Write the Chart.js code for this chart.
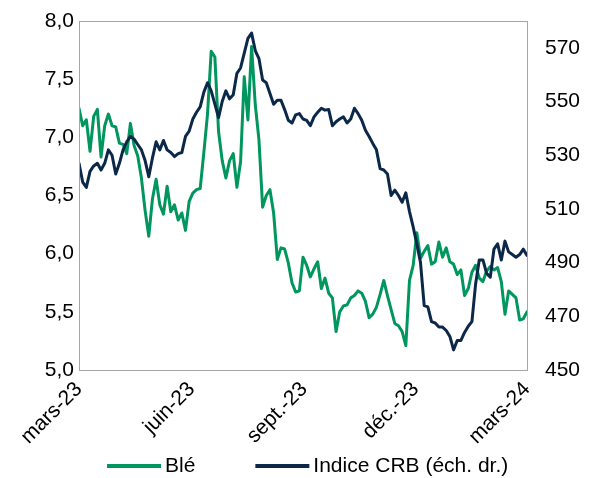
<!DOCTYPE html>
<html lang="fr">
<head>
<meta charset="utf-8">
<title>Blé et indice CRB</title>
<script src="https://cdn.jsdelivr.net/npm/chart.js@4/dist/chart.umd.min.js"></script>
<style>
  html, body { margin: 0; padding: 0; background: #ffffff; }
  #wrap { width: 597px; height: 478px; }
</style>
</head>
<body>
<div id="wrap"><canvas id="chart" width="597" height="478"></canvas></div>
<script>
// Observation dates: one every 3 days from 1 March 2023 to 1 March 2024
const firstDate = '2023-03-01';
const stepDays = 3;
const pointCount = 123;

// Quarterly tick marks on the time axis
const tickDates = ['2023-03-01', '2023-06-01', '2023-09-01', '2023-12-01', '2024-03-01'];
const tickLabels = ['mars-23', 'juin-23', 'sept.-23', 'déc.-23', 'mars-24'];

// Left axis (blé) and right axis (indice CRB) tick values
const bleTicks = [5.0, 5.5, 6.0, 6.5, 7.0, 7.5, 8.0];
const crbTicks = [450, 470, 490, 510, 530, 550, 570];

// Blé, $/boisseau
const ble = [
  7.25, 7.10, 7.15, 6.88, 7.18, 7.24, 6.83, 7.10, 7.20, 7.10,
  7.09, 6.95, 6.94, 6.86, 7.12, 6.93, 6.84, 6.65, 6.37, 6.15,
  6.47, 6.64, 6.42, 6.34, 6.58, 6.36, 6.42, 6.29, 6.35, 6.20,
  6.45, 6.52, 6.55, 6.56, 6.87, 7.20, 7.74, 7.69, 7.05, 6.80,
  6.65, 6.80, 6.86, 6.57, 6.79, 7.52, 7.15, 7.78, 7.28, 6.98,
  6.40, 6.50, 6.55, 6.35, 5.95, 6.05, 6.04, 5.92, 5.75, 5.67,
  5.68, 5.97, 5.90, 5.80, 5.87, 5.93, 5.70, 5.79, 5.66, 5.62,
  5.33, 5.50, 5.55, 5.56, 5.62, 5.64, 5.68, 5.66, 5.59, 5.45,
  5.48, 5.54, 5.65, 5.77, 5.64, 5.52, 5.40, 5.38, 5.33, 5.21,
  5.77, 5.90, 6.18, 5.96, 6.02, 6.07, 5.91, 5.93, 6.10, 5.97,
  6.05, 5.93, 5.91, 5.82, 5.86, 5.64, 5.70, 5.84, 5.90, 5.79,
  5.76, 5.85, 5.89, 5.86, 5.88, 5.76, 5.48, 5.68, 5.65, 5.62,
  5.43, 5.44, 5.50
];

// Indice CRB (échelle de droite)
const crb = [
  527, 520, 518, 524, 526, 527, 524.5, 527, 532, 530,
  523, 527, 532, 535, 537, 536, 534, 532, 528, 522,
  529, 535, 532, 535.5, 532, 531, 529.5, 530.6, 531, 537,
  539, 543.5, 546, 548, 553.5, 557, 554, 549, 544, 550,
  554, 551, 552.5, 560.5, 562.5, 568, 573.5, 575.5, 569, 566,
  558, 557, 553, 549, 550.5, 550.5, 547, 543, 542, 545,
  545.5, 543.5, 543, 541, 544.3, 546, 547.5, 546.8, 547, 541,
  542.5, 543.5, 544.3, 542, 543.5, 547.5, 545.5, 543, 539.3, 537,
  534.4, 532, 525, 524.5, 523, 515, 517, 515, 512.5, 516,
  509, 503.3, 497, 490, 474, 473.5, 468, 467.5, 466, 466,
  464.7, 462.5, 457.5, 461, 461, 464, 466.3, 468, 482, 491,
  491, 486, 484.6, 495, 497, 491, 498, 494, 493, 492,
  493, 495, 492.7
];

const DAY = 86400000;
const t0 = Date.parse(firstDate + 'T00:00:00Z');
const dayOf = s => Math.round((Date.parse(s + 'T00:00:00Z') - t0) / DAY);
const dates = Array.from({ length: pointCount }, (_, i) =>
  new Date(t0 + i * stepDays * DAY).toISOString().slice(0, 10));

const toPoints = values => values.map((v, i) => ({ x: dayOf(dates[i]), y: v }));

const GREEN = '#00965e';
const NAVY = '#0c2849';
const FONT = 'Liberation Sans, Arial, sans-serif';
const FONT_SIZE = 21;

// Fixed axis band sizes so the plotting area sits where it should
const fixWidth = w => s => { s.width = w; s.paddingTop = 0; s.paddingBottom = 0; };

// Thin grey frame around the plotting area
const plotFrame = {
  id: 'plotFrame',
  afterDatasetsDraw(chart) {
    const { ctx, chartArea: a } = chart;
    ctx.save();
    ctx.strokeStyle = '#a6a6a6';
    ctx.lineWidth = 1;
    ctx.strokeRect(Math.round(a.left) + 0.5, Math.round(a.top) + 0.5,
      Math.round(a.right - a.left), Math.round(a.bottom - a.top));
    ctx.restore();
  }
};

// Legend row under the time axis: a short coloured line followed by the series name
const legendRow = {
  id: 'legendRow',
  afterDraw(chart, _args, opts) {
    const { ctx } = chart;
    ctx.save();
    ctx.font = `${FONT_SIZE}px ${FONT}`;
    ctx.textBaseline = 'middle';
    ctx.textAlign = 'left';
    let x = opts.x;
    chart.data.datasets.forEach(ds => {
      ctx.fillStyle = ds.borderColor;
      ctx.fillRect(x, opts.y - opts.lineHeight / 2, opts.lineLength, opts.lineHeight);
      const tx = x + opts.lineLength + opts.textGap;
      ctx.fillStyle = '#000000';
      ctx.fillText(ds.label, tx, opts.y);
      x = tx + ctx.measureText(ds.label).width + opts.itemGap;
    });
    ctx.restore();
  }
};

new Chart(document.getElementById('chart'), {
  type: 'line',
  data: {
    datasets: [
      {
        label: 'Blé',
        data: toPoints(ble),
        yAxisID: 'yL',
        borderColor: GREEN,
        backgroundColor: GREEN,
        borderWidth: 3,
        pointRadius: 0,
        tension: 0,
        borderJoinStyle: 'round',
        borderCapStyle: 'round',
        order: 2
      },
      {
        label: 'Indice CRB (éch. dr.)',
        data: toPoints(crb),
        yAxisID: 'yR',
        borderColor: NAVY,
        backgroundColor: NAVY,
        borderWidth: 3,
        pointRadius: 0,
        tension: 0,
        borderJoinStyle: 'round',
        borderCapStyle: 'round',
        order: 1
      }
    ]
  },
  options: {
    responsive: false,
    animation: false,
    events: [],
    layout: { padding: { left: 23, right: 0, top: 21, bottom: 0 } },
    plugins: {
      tooltip: { enabled: false },
      legend: { display: false },
      legendRow: { x: 107, y: 466, lineLength: 54, lineHeight: 4, textGap: 4, itemGap: 60 }
    },
    scales: {
      x: {
        type: 'linear',
        min: dayOf(tickDates[0]),
        max: dayOf(tickDates[tickDates.length - 1]),
        afterBuildTicks: s => { s.ticks = tickDates.map(d => ({ value: dayOf(d) })); },
        afterFit: s => { s.height = 108; },
        grid: { display: false, drawTicks: false },
        border: { display: false },
        ticks: {
          autoSkip: false,
          minRotation: 45,
          maxRotation: 45,
          padding: 7,
          color: '#000000',
          font: { family: FONT, size: FONT_SIZE },
          callback: v => tickLabels[tickDates.findIndex(d => dayOf(d) === v)]
        }
      },
      yL: {
        position: 'left',
        min: 5,
        max: 8,
        afterBuildTicks: s => { s.ticks = bleTicks.map(v => ({ value: v })); },
        afterFit: fixWidth(56),
        grid: { display: false, drawTicks: false },
        border: { display: false },
        ticks: {
          padding: 5,
          color: '#000000',
          font: { family: FONT, size: FONT_SIZE },
          callback: v => v.toFixed(1).replace('.', ',')
        }
      },
      yR: {
        position: 'right',
        min: 450,
        max: 580,
        afterBuildTicks: s => { s.ticks = crbTicks.map(v => ({ value: v })); },
        afterFit: fixWidth(70),
        grid: { display: false, drawTicks: false },
        border: { display: false },
        ticks: {
          padding: 18,
          color: '#000000',
          font: { family: FONT, size: FONT_SIZE },
          callback: v => String(v)
        }
      }
    }
  },
  plugins: [plotFrame, legendRow]
});
</script>
</body>
</html>
